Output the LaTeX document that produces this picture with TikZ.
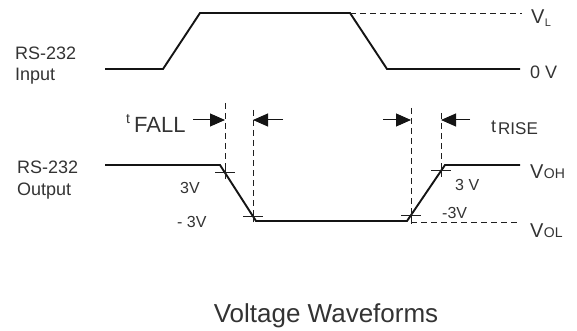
\documentclass[tikz,border=0pt]{standalone}
\usepackage{fontspec}
\setmainfont{Liberation Sans}
\usetikzlibrary{arrows.meta}
\begin{document}
\begin{tikzpicture}[x=1pt,y=-1pt,
  wave/.style={line width=1.9pt, line join=miter, black!92},
  guide/.style={line width=0.9pt, dash pattern=on 6pt off 4pt, black!88},
  crossmark/.style={line width=1pt, black!88},
  dimarrow/.style={line width=1pt, black!92, -{Triangle[length=15pt,width=13pt]}},
  lbl/.style={inner sep=0pt, anchor=base west, text=black!80},
  fs/.style={font=\fontsize{#1}{#1}\selectfont},
]
\useasboundingbox (0,0) rectangle (577,331);

% ---- input waveform
\coordinate (i0) at (105,69);
\coordinate (i1) at (163,69);
\coordinate (i2) at (200,13);
\coordinate (i3) at (350,13);
\coordinate (i4) at (387,69);
\coordinate (i5) at (520,69);
\coordinate (vl) at (522,13);
\draw[wave] (i0) -- (i1) -- (i2) -- (i3) -- (i4) -- (i5);
\draw[guide] (i3) -- (vl);

% ---- output waveform
\coordinate (o0) at (105,165);
\coordinate (o1) at (220,165);
\coordinate (o2) at (256,221);
\coordinate (o3) at (407,221);
\coordinate (o4) at (445,165);
\coordinate (o5) at (520,165);
\coordinate (vol) at (520,222);
\draw[wave] (o0) -- (o1) -- (o2) -- (o3) -- (o4) -- (o5);
\draw[guide] (411,222) -- (vol);

% crossing points
\coordinate (fA) at (225,172.8);
\coordinate (fB) at (253,216.3);
\coordinate (rA) at (411,215.1);
\coordinate (rB) at (441,170.9);

% vertical guides
\coordinate (fAt) at (225,103);
\coordinate (fBt) at (253,110);
\coordinate (rAt) at (411,108);
\coordinate (rBt) at (441,113);
\draw[guide] (fAt) -- (fA);
\draw[guide] (fBt) -- (fB);
\draw[guide] (rAt) -- (411,226);
\draw[guide] (rBt) -- (rB);

% cross marks
\foreach \p in {fA,fB,rA,rB}{
  \draw[crossmark] ([xshift=-10pt]\p) -- ([xshift=10pt]\p);
  \draw[crossmark] ([yshift=-6pt]\p) -- ([yshift=6pt]\p);
}

% dimension arrows
\coordinate (a1) at (193,120);
\coordinate (a1e) at (225,120);
\coordinate (a2) at (283,120);
\coordinate (a2e) at (253,120);
\coordinate (a3) at (383,120);
\coordinate (a3e) at (411,120);
\coordinate (a4) at (470,120);
\coordinate (a4e) at (441,120);
\draw[dimarrow] (a1) -- (a1e);
\draw[dimarrow] (a2) -- (a2e);
\draw[dimarrow] (a3) -- (a3e);
\draw[dimarrow] (a4) -- (a4e);

% ---- labels
\node[lbl,fs=18] (inA) at (15,60) {RS-232};
\node[lbl,fs=18] (inB) at (15,81) {Input};
\node[lbl,fs=18] (outA) at (17,173) {RS-232};
\node[lbl,fs=18] (outB) at (17,195) {Output};

\node[lbl,fs=20] (vlV) at (531,24) {V};
\node[lbl,fs=11,yshift=-3pt] (vlL) at (vlV.base east) {L};
\node[lbl,fs=18] (zero) at (530,79) {0 V};

\node[lbl,fs=20] (vohV) at (530,178) {V};
\node[lbl,fs=14] (vohS) at (vohV.base east) {OH};
\node[lbl,fs=20] (volV) at (530,237) {V};
\node[lbl,fs=14] (volS) at (volV.base east) {OL};

\node[lbl,fs=14] (tf) at (126,124) {t};
\node[lbl,fs=22] (fall) at (134,133) {FALL};
\node[lbl,fs=18] (tr) at (491,132) {t};
\node[lbl,fs=17] (rise) at (498,135) {RISE};

\node[lbl,fs=16] (f3) at (180,193) {3V};
\node[lbl,fs=16] (fm3) at (177,227) {- 3V};
\node[lbl,fs=16] (r3) at (455,190) {3 V};
\node[lbl,fs=16] (rm3) at (442,218) {-3V};

\node[inner sep=0pt, anchor=base, text=black!80, fs=26] (title) at (326,322) {Voltage Waveforms};
\end{tikzpicture}
\end{document}
